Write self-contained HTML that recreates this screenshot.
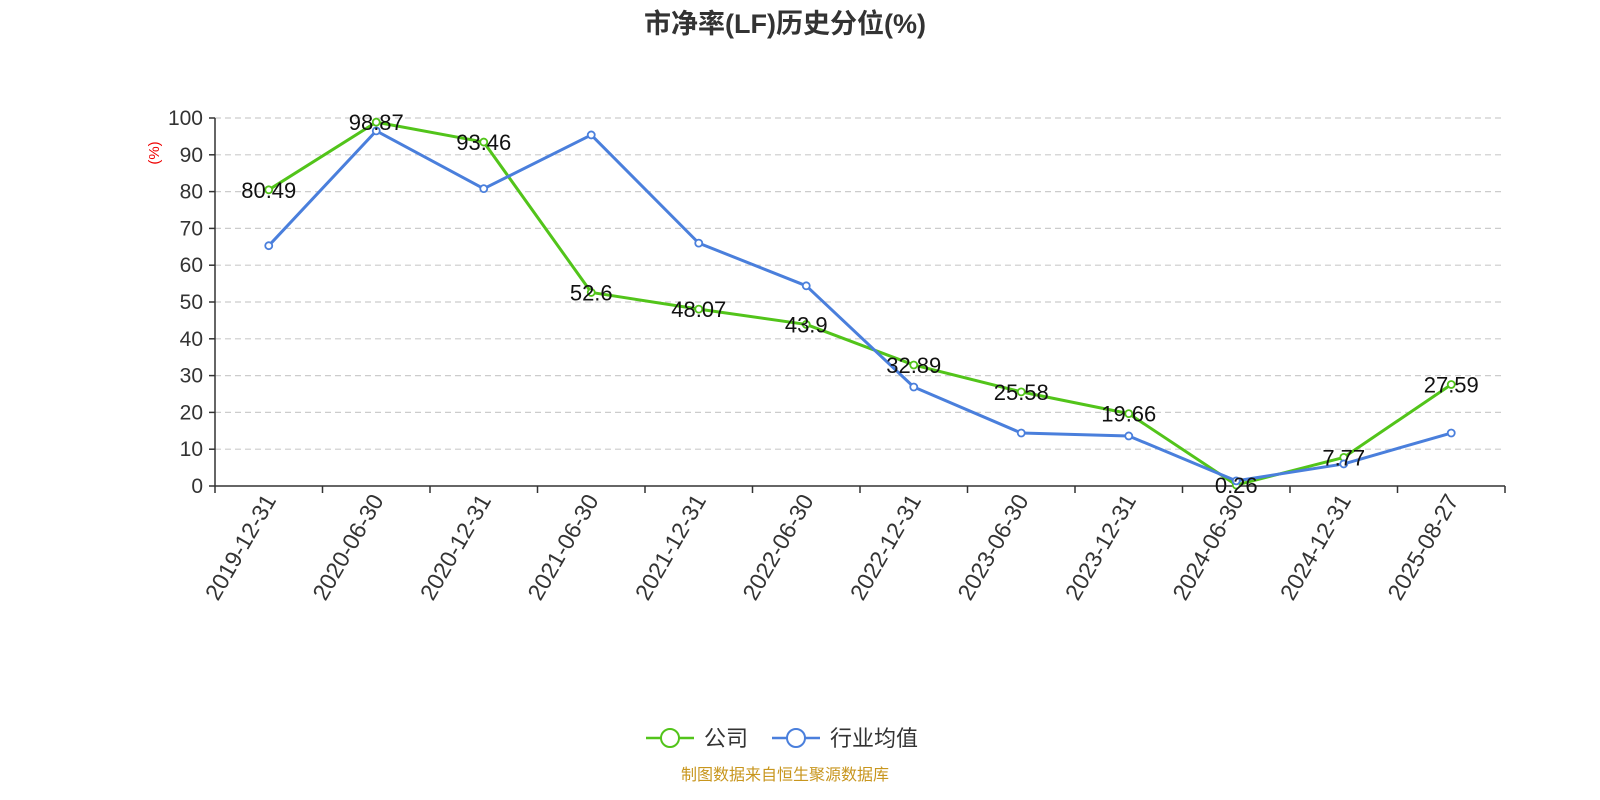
<!DOCTYPE html>
<html><head><meta charset="utf-8">
<style>
html,body{margin:0;padding:0;background:#fff;}
svg{display:block;font-family:"Liberation Sans","Noto Sans CJK SC",sans-serif;}
</style></head>
<body>
<svg id="chart" width="1600" height="800" viewBox="0 0 1600 800" xmlns="http://www.w3.org/2000/svg">
<text x="785" y="33" text-anchor="middle" font-size="27" font-weight="bold" fill="#333">市净率(LF)历史分位(%)</text>
<text x="0" y="0" transform="translate(159,153) rotate(-90)" text-anchor="middle" font-size="15" fill="#e00">(%)</text>
<g id="grid"></g>
<g id="axes"></g>
<g id="series"></g>
<g>
  <g>
    <line x1="646" y1="738" x2="694" y2="738" stroke="#52c41a" stroke-width="2.5"/>
    <circle cx="670" cy="738" r="9" fill="#fff" stroke="#52c41a" stroke-width="2"/>
    <text x="704" y="746" font-size="22" fill="#333">公司</text>
  </g>
  <g>
    <line x1="772" y1="738" x2="820" y2="738" stroke="#4a7fdc" stroke-width="2.5"/>
    <circle cx="796" cy="738" r="9" fill="#fff" stroke="#4a7fdc" stroke-width="2"/>
    <text x="830" y="746" font-size="22" fill="#333">行业均值</text>
  </g>
</g>
<text x="785" y="780" text-anchor="middle" font-size="16" fill="#c8961e">制图数据来自恒生聚源数据库</text>
</svg>
<script>
const categories=["2019-12-31","2020-06-30","2020-12-31","2021-06-30","2021-12-31","2022-06-30","2022-12-31","2023-06-30","2023-12-31","2024-06-30","2024-12-31","2025-08-27"];
const companyValues=[80.49,98.87,93.46,52.6,48.07,43.9,32.89,25.58,19.66,0.26,7.77,27.59];
const industryValues=[65.3,96.5,80.8,95.4,66.0,54.4,26.9,14.4,13.6,1.4,6.0,14.4];
const yTicks=[0,10,20,30,40,50,60,70,80,90,100];
const NS="http://www.w3.org/2000/svg";
const X0=215,X1=1505,Y0=486,Y1=118,YMAX=100;
const band=(X1-X0)/categories.length;
const xs=i=>X0+band*(i+0.5);
const ys=v=>Y0-(v/YMAX)*(Y0-Y1);
function mk(tag,attrs,parent){const e=document.createElementNS(NS,tag);for(const k in attrs)e.setAttribute(k,attrs[k]);parent.appendChild(e);return e;}
const grid=document.getElementById('grid'),axes=document.getElementById('axes'),series=document.getElementById('series');
yTicks.forEach(t=>{
  const y=ys(t);
  if(t>0){const g=mk('line',{x1:X0,x2:X1,y1:y,y2:y,stroke:'#ccc','stroke-dasharray':'6,4','stroke-width':1.2},grid);
  
  }
  const tk=mk('line',{x1:X0-6,x2:X0,y1:y,y2:y,stroke:'#333','stroke-width':1.5},axes);
  
  
  const lb=mk('text',{x:X0-12,y:y+7,'text-anchor':'end','font-size':21,fill:'#333'},axes);
  lb.textContent=t;
  
  
});
const ya=mk('line',{x1:X0,x2:X0,y1:Y1,y2:Y0,stroke:'#333','stroke-width':1.5},axes);


const xa=mk('line',{x1:X0,x2:X1,y1:Y0,y2:Y0,stroke:'#333','stroke-width':1.5},axes);


for(let i=0;i<=categories.length;i++){
  const x=X0+band*i;
  const tk=mk('line',{x1:x,x2:x,y1:Y0,y2:Y0+7,stroke:'#333','stroke-width':1.5},axes);
  
  
}
categories.forEach((c,i)=>{
  const x=xs(i);
  const t=mk('text',{x:0,y:0,transform:`translate(${x+8},${Y0+14}) rotate(-60)`,'text-anchor':'end','font-size':23,fill:'#333'},axes);
  t.textContent=c;
  
  
});
function drawSeries(vals,color,name){
  const g=mk('g',{},series);
  
  
  const pts=vals.map((v,i)=>xs(i)+','+ys(v)).join(' ');
  const pl=mk('polyline',{points:pts,fill:'none',stroke:color,'stroke-width':3,'stroke-linejoin':'round'},g);
  
  
  vals.forEach((v,i)=>{
    const c=mk('circle',{cx:xs(i),cy:ys(v),r:3.5,fill:'#fff',stroke:color,'stroke-width':1.8},g);
    
    
  });
}
drawSeries(companyValues,'#52c41a','company');
drawSeries(industryValues,'#4a7fdc','industry-average');
companyValues.forEach((v,i)=>{
  const t=mk('text',{x:xs(i),y:ys(v)+8,'text-anchor':'middle','font-size':22,fill:'#111'},series);
  t.textContent=v;
  
  
});
</script>
</body></html>
